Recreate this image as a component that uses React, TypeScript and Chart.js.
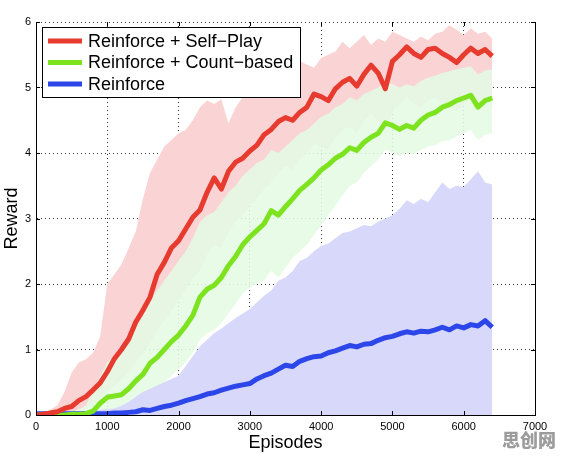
import React, { useEffect, useRef } from 'react';
import { Chart, registerables } from 'chart.js';

Chart.register(...registerables);

const FONT = '"Liberation Sans", Arial, Helvetica, sans-serif';

const seriesLabels = ['Reinforce + Self\u2212Play', 'Reinforce + Count\u2212based', 'Reinforce'];
const xAxisTitle = 'Episodes';
const yAxisTitle = 'Reward';
const xTicks = [0, 1000, 2000, 3000, 4000, 5000, 6000, 7000];
const yTicks = [0, 1, 2, 3, 4, 5, 6];
const watermark = '思创网';

const episodes = [
  0, 100, 200, 300, 400, 500, 600, 700, 800, 900,
  1000, 1100, 1200, 1300, 1400, 1500, 1600, 1700, 1800, 1900,
  2000, 2100, 2200, 2300, 2400, 2500, 2600, 2700, 2800, 2900,
  3000, 3100, 3200, 3300, 3400, 3500, 3600, 3700, 3800, 3900,
  4000, 4100, 4200, 4300, 4400, 4500, 4600, 4700, 4800, 4900,
  5000, 5100, 5200, 5300, 5400, 5500, 5600, 5700, 5800, 5900,
  6000, 6100, 6200, 6300, 6400,
];

const redMean = [
  0.00, 0.01, 0.03, 0.05, 0.10, 0.13, 0.22, 0.28, 0.38, 0.49,
  0.66, 0.86, 1.00, 1.16, 1.42, 1.60, 1.80, 2.15, 2.33, 2.55,
  2.66, 2.84, 3.02, 3.13, 3.40, 3.62, 3.45, 3.72, 3.86, 3.92,
  4.03, 4.12, 4.28, 4.36, 4.48, 4.54, 4.50, 4.62, 4.70, 4.90,
  4.86, 4.80, 4.98, 5.08, 5.14, 5.02, 5.20, 5.34, 5.22, 4.98,
  5.40, 5.50, 5.62, 5.52, 5.46, 5.58, 5.60, 5.52, 5.46, 5.38,
  5.50, 5.60, 5.52, 5.58, 5.48,
];
const redUpper = [
  0.00, 0.02, 0.08, 0.15, 0.35, 0.65, 0.80, 0.85, 0.95, 1.20,
  2.00, 2.15, 2.30, 2.55, 2.80, 3.30, 3.70, 3.90, 4.10, 4.20,
  4.30, 4.35, 4.50, 4.70, 4.80, 4.75, 4.82, 4.45, 4.70, 4.85,
  4.95, 5.00, 4.90, 5.05, 5.20, 5.30, 5.25, 5.40, 5.35, 5.30,
  5.45, 5.50, 5.55, 5.70, 5.60, 5.70, 5.80, 5.65, 5.75, 5.70,
  5.85, 5.80, 5.75, 5.70, 5.78, 5.72, 5.82, 5.85, 5.95, 5.88,
  5.80, 5.90, 5.82, 5.85, 5.75,
];
const redLower = [
  0.00, 0.00, 0.00, 0.00, 0.02, 0.04, 0.08, 0.12, 0.18, 0.25,
  0.35, 0.45, 0.55, 0.65, 0.80, 0.95, 1.10, 1.30, 1.45, 1.60,
  1.75, 1.90, 2.10, 2.20, 2.45, 2.60, 2.55, 2.80, 2.95, 3.05,
  3.20, 3.30, 3.45, 3.55, 3.70, 3.80, 3.75, 3.90, 4.00, 4.15,
  4.10, 4.05, 4.25, 4.35, 4.40, 4.30, 4.50, 4.60, 4.50, 4.30,
  4.65, 4.75, 4.85, 4.75, 4.70, 4.80, 4.85, 4.75, 4.70, 4.65,
  4.75, 4.85, 4.75, 4.80, 4.70,
];

const greenMean = [
  0.00, 0.00, 0.00, 0.00, 0.00, 0.01, 0.01, 0.02, 0.06, 0.18,
  0.27, 0.29, 0.31, 0.40, 0.52, 0.62, 0.79, 0.88, 1.00, 1.12,
  1.22, 1.36, 1.52, 1.80, 1.92, 1.98, 2.10, 2.28, 2.42, 2.60,
  2.72, 2.82, 2.92, 3.12, 3.05, 3.18, 3.30, 3.43, 3.52, 3.62,
  3.74, 3.82, 3.92, 3.98, 4.08, 4.04, 4.16, 4.24, 4.30, 4.46,
  4.42, 4.36, 4.42, 4.38, 4.50, 4.58, 4.62, 4.70, 4.74, 4.80,
  4.84, 4.88, 4.70, 4.80, 4.84,
];
const greenUpper = [
  0.00, 0.00, 0.01, 0.02, 0.03, 0.05, 0.08, 0.15, 0.35, 0.60,
  0.80, 0.90, 1.00, 1.15, 1.35, 1.50, 1.75, 1.90, 2.05, 2.20,
  2.35, 2.50, 2.70, 2.95, 3.05, 3.10, 3.25, 3.40, 3.50, 3.65,
  3.75, 3.85, 3.90, 4.05, 4.00, 4.10, 4.20, 4.30, 4.35, 4.45,
  4.55, 4.60, 4.70, 4.75, 4.85, 4.80, 4.90, 4.95, 5.00, 5.10,
  5.05, 5.00, 5.05, 5.02, 5.10, 5.15, 5.18, 5.22, 5.25, 5.28,
  5.30, 5.32, 5.20, 5.26, 5.28,
];
const greenLower = [
  0.00, 0.00, 0.00, 0.00, 0.00, 0.00, 0.00, 0.00, 0.00, 0.02,
  0.05, 0.06, 0.08, 0.12, 0.18, 0.25, 0.35, 0.42, 0.50, 0.60,
  0.70, 0.80, 0.95, 1.15, 1.25, 1.30, 1.40, 1.55, 1.70, 1.85,
  1.95, 2.00, 2.05, 2.20, 2.10, 2.25, 2.40, 2.50, 2.60, 2.75,
  2.90, 3.05, 3.20, 3.35, 3.50, 3.55, 3.70, 3.80, 3.90, 4.05,
  4.00, 3.95, 4.00, 3.98, 4.05, 4.10, 4.12, 4.18, 4.20, 4.25,
  4.30, 4.35, 4.20, 4.28, 4.30,
];

const blueMean = [
  0.02, 0.02, 0.02, 0.02, 0.02, 0.02, 0.02, 0.02, 0.02, 0.02,
  0.02, 0.03, 0.03, 0.04, 0.05, 0.08, 0.07, 0.10, 0.13, 0.15,
  0.18, 0.22, 0.25, 0.28, 0.32, 0.34, 0.38, 0.41, 0.44, 0.46,
  0.48, 0.55, 0.60, 0.64, 0.70, 0.76, 0.74, 0.82, 0.86, 0.89,
  0.90, 0.95, 0.98, 1.02, 1.06, 1.04, 1.08, 1.09, 1.14, 1.18,
  1.20, 1.24, 1.27, 1.25, 1.28, 1.27, 1.30, 1.34, 1.30, 1.36,
  1.33, 1.38, 1.36, 1.44, 1.34,
];
const blueUpper = [
  0.03, 0.04, 0.04, 0.05, 0.05, 0.05, 0.06, 0.06, 0.07, 0.08,
  0.09, 0.10, 0.14, 0.20, 0.28, 0.35, 0.40, 0.45, 0.50, 0.55,
  0.60, 0.75, 0.90, 1.05, 1.15, 1.25, 1.32, 1.40, 1.48, 1.55,
  1.62, 1.72, 1.82, 1.90, 2.05, 2.10, 2.20, 2.35, 2.40, 2.50,
  2.58, 2.62, 2.70, 2.78, 2.80, 2.85, 2.90, 2.88, 2.95, 3.00,
  3.05, 3.15, 3.28, 3.22, 3.30, 3.25, 3.40, 3.55, 3.45, 3.50,
  3.48, 3.60, 3.72, 3.55, 3.52,
];

const RED = '#e63b2e';
const GREEN = '#7de31f';
const BLUE = '#2c46ea';
const RED_BAND = 'rgb(250, 212, 212)';
const GREEN_BAND = 'rgba(228, 250, 228, 0.88)';
const BLUE_BAND = 'rgb(216, 216, 250)';

const decorPlugin = {
  id: 'decor',
  afterDatasetsDraw(chart: any) {
    const { ctx, chartArea } = chart;
    const { left, right, top, bottom } = chartArea;
    const xs = chart.scales.x;
    const ys = chart.scales.y;
    ctx.save();
    ctx.strokeStyle = '#000';
    ctx.lineWidth = 1;
    ctx.beginPath();
    ctx.moveTo(Math.round(right) + 0.5, top);
    ctx.lineTo(Math.round(right) + 0.5, bottom);
    ctx.stroke();
    ctx.beginPath();
    xTicks.forEach((v) => {
      const px = Math.round(xs.getPixelForValue(v)) + 0.5;
      ctx.moveTo(px, bottom);
      ctx.lineTo(px, bottom - 4);
      ctx.moveTo(px, top);
      ctx.lineTo(px, top + 4);
    });
    yTicks.forEach((v) => {
      const py = Math.round(ys.getPixelForValue(v)) + 0.5;
      ctx.moveTo(left, py);
      ctx.lineTo(left + 4, py);
      ctx.moveTo(right, py);
      ctx.lineTo(right - 4, py);
    });
    ctx.stroke();
    ctx.restore();
  },
  afterDraw(chart: any) {
    const { ctx } = chart;
    const mains = chart.data.datasets.filter((d: any) => d.isMain);
    const bx = 42.5, by = 27.5, bw = 258, bh = 70;
    ctx.save();
    ctx.fillStyle = '#fff';
    ctx.fillRect(bx, by, bw, bh);
    ctx.strokeStyle = '#000';
    ctx.lineWidth = 1;
    ctx.strokeRect(bx, by, bw, bh);
    ctx.font = `18px ${FONT}`;
    ctx.textBaseline = 'middle';
    ctx.textAlign = 'left';
    const rows = [41, 62.5, 84];
    mains.forEach((d: any, i: number) => {
      const y = rows[i];
      ctx.strokeStyle = d.borderColor;
      ctx.lineWidth = 5;
      ctx.beginPath();
      ctx.moveTo(48, y);
      ctx.lineTo(82, y);
      ctx.stroke();
      ctx.fillStyle = '#000';
      ctx.fillText(d.label, 88, y + 1);
    });
    ctx.restore();
  },
};

export default function App() {
  const ref = useRef<HTMLCanvasElement>(null);

  useEffect(() => {
    document.body.style.margin = '0';
    const pts = (ys: number[]) => episodes.map((x, i) => ({ x, y: ys[i] }));
    const band = (ys: number[], fill: any, color: string, order: number, label: string) => ({
      label,
      data: pts(ys),
      borderWidth: 0,
      borderColor: 'transparent',
      backgroundColor: color,
      pointRadius: 0,
      fill,
      order,
      tension: 0,
    });
    const line = (ys: number[], color: string, order: number, label: string) => ({
      label,
      data: pts(ys),
      borderColor: color,
      backgroundColor: color,
      borderWidth: 5,
      pointRadius: 0,
      fill: false,
      order,
      tension: 0,
      borderJoinStyle: 'round',
      isMain: true,
    });
    const datasets: any[] = [
      line(redMean, RED, 0, seriesLabels[0]),
      line(greenMean, GREEN, 1, seriesLabels[1]),
      line(blueMean, BLUE, 2, seriesLabels[2]),
      band(redUpper, { target: 4 }, RED_BAND, 30, 'red upper'),
      band(redLower, false, 'transparent', 31, 'red lower'),
      band(greenUpper, { target: 6 }, GREEN_BAND, 20, 'green upper'),
      band(greenLower, false, 'transparent', 21, 'green lower'),
      band(blueUpper, 'origin', BLUE_BAND, 10, 'blue upper'),
    ];

    const chart = new Chart(ref.current as HTMLCanvasElement, {
      type: 'line',
      data: { datasets },
      options: {
        animation: false,
        responsive: false,
        devicePixelRatio: 1,
        parsing: false as any,
        normalized: true,
        layout: { padding: { top: 22, right: 30, left: 0, bottom: 0 } },
        plugins: {
          legend: { display: false },
          tooltip: { enabled: false },
        },
        scales: {
          x: {
            type: 'linear',
            min: 0,
            max: 7000,
            afterFit: (s: any) => { s.height = 42; },
            afterBuildTicks: (s: any) => { s.ticks = xTicks.map((v) => ({ value: v })); },
            ticks: {
              callback: (v: any) => String(v),
              font: { family: FONT, size: 11 },
              color: '#000',
              padding: 5,
              maxRotation: 0,
              autoSkip: false,
            },
            grid: { color: 'rgba(0,0,0,0.8)', lineWidth: 1, drawTicks: false },
            border: { display: true, color: '#000', width: 1, dash: [1, 3] },
            title: {
              display: true,
              text: xAxisTitle,
              font: { family: FONT, size: 18 },
              color: '#000',
              padding: { top: 0, bottom: 3 },
            },
          },
          y: {
            type: 'linear',
            min: 0,
            max: 6,
            afterFit: (s: any) => { s.width = 36; },
            afterBuildTicks: (s: any) => { s.ticks = yTicks.map((v) => ({ value: v })); },
            ticks: {
              callback: (v: any) => String(v),
              font: { family: FONT, size: 11 },
              color: '#000',
              padding: 5,
            },
            grid: { color: 'rgba(0,0,0,0.8)', lineWidth: 1, drawTicks: false },
            border: { display: true, color: '#000', width: 1, dash: [1, 3] },
            title: {
              display: true,
              text: yAxisTitle,
              font: { family: FONT, size: 18 },
              color: '#000',
              padding: { top: 1, bottom: 0 },
            },
          },
        },
      },
      plugins: [decorPlugin],
    } as any);

    return () => chart.destroy();
  }, []);

  return (
    <div style={{ position: 'relative', width: 565, height: 457, background: '#fff' }}>
      <canvas ref={ref} width={565} height={457} style={{ display: 'block' }} />
      <span
        style={{
          position: 'absolute',
          left: 502,
          top: 427,
          fontFamily: '"Noto Sans CJK SC", sans-serif',
          fontWeight: 900,
          fontSize: 18,
          color: '#9c9c9c',
          letterSpacing: 0,
          lineHeight: '24px',
          whiteSpace: 'nowrap',
        }}
      >
        {watermark}
      </span>
    </div>
  );
}
